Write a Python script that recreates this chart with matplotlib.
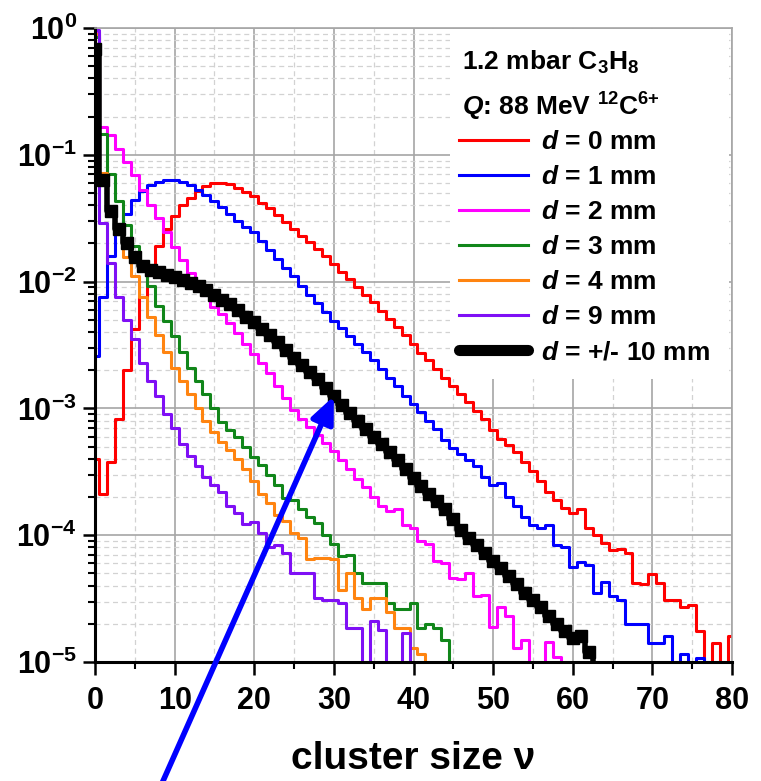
"""Cluster size distributions for several distances d, 1.2 mbar C3H8."""

import numpy as np
import matplotlib

matplotlib.use("Agg")
import matplotlib.pyplot as plt
from matplotlib.lines import Line2D
from matplotlib.patches import Rectangle
from matplotlib.ticker import FuncFormatter, LogLocator, MultipleLocator, NullFormatter

# probability per cluster size nu = 0, 1, 2, ... (0 = empty bin)
d0_mm = [4.0e-4, 2.1e-4, 3.8e-4, 8.3e-4, 2.0e-3, 4.2e-3, 7.5e-3, 1.3e-2, 1.9e-2, 2.6e-2,
         3.3e-2, 4.0e-2, 4.6e-2, 5.2e-2, 5.7e-2, 6.0e-2, 6.0e-2, 5.9e-2, 5.5e-2, 5.1e-2,
         4.7e-2, 4.2e-2, 3.8e-2, 3.35e-2, 2.95e-2, 2.6e-2, 2.3e-2, 2.05e-2, 1.8e-2, 1.58e-2,
         1.38e-2, 1.2e-2, 1.04e-2, 9.1e-3, 7.9e-3, 6.9e-3, 5.9e-3, 5.1e-3, 4.4e-3, 3.8e-3,
         3.2e-3, 2.75e-3, 2.4e-3, 2.05e-3, 1.75e-3, 1.5e-3, 1.3e-3, 1.12e-3, 9.5e-4, 8.2e-4,
         6.8e-4, 5.7e-4, 5.1e-4, 4.5e-4, 3.8e-4, 3.2e-4, 2.7e-4, 2.2e-4, 1.9e-4, 1.65e-4,
         1.5e-4, 1.6e-4, 1.15e-4, 1.0e-4, 8.7e-5, 7.6e-5, 7.8e-5, 7.2e-5, 4.2e-5, 4.1e-5,
         4.9e-5, 4.2e-5, 3.1e-5, 3.1e-5, 2.7e-5, 2.8e-5, 1.75e-5, 0, 1.4e-5, 0, 1.6e-5]

d1_mm = [2.6e-3, 7.6e-3, 1.6e-2, 2.6e-2, 3.4e-2, 4.4e-2, 5.2e-2, 5.8e-2, 6.1e-2, 6.3e-2,
         6.3e-2, 6.1e-2, 5.8e-2, 5.3e-2, 4.8e-2, 4.3e-2, 3.85e-2, 3.4e-2, 3.0e-2, 2.7e-2,
         2.45e-2, 2.1e-2, 1.78e-2, 1.51e-2, 1.29e-2, 1.1e-2, 9.3e-3, 7.9e-3, 6.8e-3, 5.8e-3,
         4.9e-3, 4.3e-3, 3.7e-3, 3.2e-3, 2.8e-3, 2.4e-3, 2.05e-3, 1.75e-3, 1.5e-3, 1.25e-3,
         1.08e-3, 9.4e-4, 8.0e-4, 6.9e-4, 5.6e-4, 4.9e-4, 4.4e-4, 3.9e-4, 3.5e-4, 2.9e-4,
         2.5e-4, 2.6e-4, 2.0e-4, 1.7e-4, 1.4e-4, 1.2e-4, 1.15e-4, 1.2e-4, 8.4e-5, 8.0e-5,
         5.6e-5, 6.2e-5, 5.8e-5, 3.5e-5, 4.3e-5, 3.3e-5, 3.1e-5, 2.0e-5, 2.0e-5, 2.0e-5,
         1.4e-5, 1.4e-5, 1.6e-5, 0, 1.15e-5, 0, 1.07e-5, 0]

d2_mm = [0.93, 0.166, 0.143, 0.112, 0.087, 0.069, 0.053, 0.040, 0.032, 0.0246,
         0.0187, 0.0148, 0.0117, 9.1e-3, 7.8e-3, 6.3e-3, 5.6e-3, 4.7e-3, 3.9e-3, 3.2e-3,
         2.7e-3, 2.3e-3, 1.9e-3, 1.5e-3, 1.2e-3, 9.8e-4, 8.2e-4, 7.1e-4, 6.2e-4, 5.3e-4,
         4.6e-4, 3.9e-4, 3.3e-4, 2.8e-4, 2.4e-4, 2.0e-4, 1.7e-4, 1.55e-4, 1.6e-4, 1.2e-4,
         1.15e-4, 9.0e-5, 8.5e-5, 6.3e-5, 6.0e-5, 4.6e-5, 4.5e-5, 5.0e-5, 3.3e-5, 3.4e-5,
         1.9e-5, 2.7e-5, 2.3e-5, 1.3e-5, 1.5e-5, 0, 0, 1.45e-5, 1.1e-5, 0]

d3_mm = [0.85, 0.145, 0.070, 0.043, 0.028, 0.019, 0.0125, 9.2e-3, 6.4e-3, 4.9e-3,
         3.7e-3, 2.8e-3, 2.1e-3, 1.65e-3, 1.3e-3, 1.0e-3, 7.8e-4, 6.8e-4, 6.0e-4, 5.0e-4,
         4.1e-4, 3.6e-4, 3.0e-4, 2.5e-4, 1.95e-4, 1.9e-4, 1.6e-4, 1.4e-4, 1.25e-4, 1.0e-4,
         8.5e-5, 6.9e-5, 7.0e-5, 5.0e-5, 4.2e-5, 4.2e-5, 4.2e-5, 2.9e-5, 2.6e-5, 2.6e-5,
         2.9e-5, 1.85e-5, 2.0e-5, 1.85e-5, 1.5e-5, 0]

d4_mm = [0.90, 0.072, 0.036, 0.024, 0.0157, 0.011, 7.6e-3, 5.3e-3, 3.8e-3, 2.8e-3,
         2.1e-3, 1.65e-3, 1.3e-3, 1.0e-3, 8.0e-4, 6.5e-4, 5.4e-4, 4.7e-4, 4.0e-4, 3.3e-4,
         2.7e-4, 2.1e-4, 1.8e-4, 1.45e-4, 1.3e-4, 1.05e-4, 9.5e-5, 6.5e-5, 6.6e-5, 6.6e-5,
         6.5e-5, 3.7e-5, 5.0e-5, 3.2e-5, 2.6e-5, 3.2e-5, 3.2e-5, 2.5e-5, 1.85e-5, 1.85e-5,
         1.3e-5, 1.15e-5, 0]

d9_mm = [0.97, 0.029, 0.014, 7.6e-3, 5.0e-3, 3.5e-3, 2.3e-3, 1.65e-3, 1.25e-3, 9.0e-4,
         7.0e-4, 5.2e-4, 4.2e-4, 3.5e-4, 2.9e-4, 2.5e-4, 2.2e-4, 1.7e-4, 1.5e-4, 1.22e-4,
         1.27e-4, 1.05e-4, 8.0e-5, 8.4e-5, 7.2e-5, 5.0e-5, 5.0e-5, 5.0e-5, 3.2e-5, 3.1e-5,
         3.1e-5, 2.9e-5, 1.85e-5, 1.85e-5, 0, 2.1e-5, 1.8e-5, 0, 0, 1.7e-5, 0]

d10_mm = [0.68, 0.063, 0.036, 0.026, 0.020, 0.0157, 0.0132, 0.0123, 0.0118, 0.0113,
          0.0108, 0.0103, 9.7e-3, 9.2e-3, 8.6e-3, 7.9e-3, 7.2e-3, 6.6e-3, 6.0e-3, 5.3e-3,
          4.8e-3, 4.2e-3, 3.8e-3, 3.35e-3, 2.9e-3, 2.5e-3, 2.2e-3, 1.95e-3, 1.7e-3, 1.45e-3,
          1.25e-3, 1.06e-3, 9.2e-4, 8.0e-4, 6.9e-4, 6.0e-4, 5.2e-4, 4.5e-4, 3.9e-4, 3.3e-4,
          2.85e-4, 2.45e-4, 2.1e-4, 1.85e-4, 1.6e-4, 1.35e-4, 1.1e-4, 9.5e-5, 8.3e-5, 7.2e-5,
          6.3e-5, 5.5e-5, 4.8e-5, 4.1e-5, 3.5e-5, 3.1e-5, 2.7e-5, 2.3e-5, 2.0e-5, 1.75e-5,
          1.55e-5, 1.6e-5, 1.2e-5, 0]

colored = [
    (d0_mm, "#ff0000", "0"),
    (d1_mm, "#0000ff", "1"),
    (d2_mm, "#ff00ff", "2"),
    (d3_mm, "#11861a", "3"),
    (d4_mm, "#ff8410", "4"),
    (d9_mm, "#7f0ff5", "9"),
]
ARROW_TAIL = (7.5, 8.2e-7)

plt.rcParams.update({
    "font.family": "Liberation Sans",
    "font.weight": "bold",
    "axes.labelweight": "bold",
    "mathtext.fontset": "custom",
    "mathtext.rm": "Liberation Sans:bold",
    "mathtext.it": "Liberation Sans:italic:bold",
    "mathtext.bf": "Liberation Sans:bold",
})

W, H = 761, 781
fig = plt.figure(figsize=(W / 100, H / 100), dpi=100)
ax = fig.add_axes([95 / W, 1 - 662 / H, 637 / W, 634 / H])

for values, color, _ in colored:
    ax.step(np.arange(len(values)), values, where="mid", color=color, lw=2.2, zorder=2)

xs = np.arange(len(d10_mm))
ax.step(xs, d10_mm, where="mid", color="black", lw=4, zorder=3)
ax.plot(xs, d10_mm, "s", color="black", ms=8.5, zorder=3)

ax.set_yscale("log")
ax.set_ylim(1e-5, 1)
ax.set_xlim(0, 80)
ax.xaxis.set_major_locator(MultipleLocator(10))
ax.xaxis.set_minor_locator(MultipleLocator(5))
ax.yaxis.set_major_locator(LogLocator(base=10, numticks=10))
ax.yaxis.set_minor_locator(LogLocator(base=10, subs=np.arange(2, 10), numticks=20))
ax.yaxis.set_major_formatter(FuncFormatter(
    lambda v, _: r"$\mathrm{10^{%d}}$" % round(np.log10(v))))
ax.yaxis.set_minor_formatter(NullFormatter())

ax.grid(which="major", color="#a6a6a6", lw=1.2)
ax.grid(which="minor", color="#d2d2d2", lw=0.9, ls=(0, (4, 3)))

for side in ("left", "bottom"):
    ax.spines[side].set_linewidth(2.2)
    ax.spines[side].set_color("black")
for side in ("top", "right"):
    ax.spines[side].set_linewidth(1.2)
    ax.spines[side].set_color("#a6a6a6")

ax.tick_params(which="major", direction="out", length=9, width=1.8, labelsize=22)
ax.tick_params(axis="x", which="major", pad=8)
ax.tick_params(axis="y", which="major", pad=4)
ax.tick_params(which="minor", direction="out", length=5, width=1.5)

ax.set_xlabel("cluster size ν", fontsize=28, labelpad=18)

# white patch behind the legend block
ax.add_patch(Rectangle((0.557, 0.446), 0.438, 0.552, transform=ax.transAxes,
                       facecolor="white", edgecolor="none", zorder=1.7))

handles = [Line2D([], [], color=c, lw=2.2) for _, c, _ in colored]
labels = [f"$d$ = {d} mm" for _, _, d in colored]
handles.append(Line2D([], [], color="black", lw=8, solid_capstyle="round"))
labels.append("$d$ = +/- 10 mm")
ax.legend(handles, labels, loc="upper left", bbox_to_anchor=(459 / W, 1 - 130 / H),
          bbox_transform=fig.transFigure, frameon=False, fontsize=19,
          handlelength=2.6, handletextpad=0.5, labelspacing=0.42,
          borderpad=0, borderaxespad=0)

fig.text(462 / W, 1 - 62 / H, "1.2 mbar C$_3$H$_8$", fontsize=19, va="center")
fig.text(462 / W, 1 - 107 / H, "$Q$: 88 MeV $^{12}$C$^{6{+}}$", fontsize=19, va="center")

ax.annotate("", xy=(30, d10_mm[30]), xytext=ARROW_TAIL,
            arrowprops=dict(arrowstyle="-|>,head_length=0.8,head_width=0.35",
                            color="#0000ff", lw=4, mutation_scale=20,
                            shrinkA=0, shrinkB=0),
            annotation_clip=False, zorder=5)

fig.savefig("out.png", dpi=100)
